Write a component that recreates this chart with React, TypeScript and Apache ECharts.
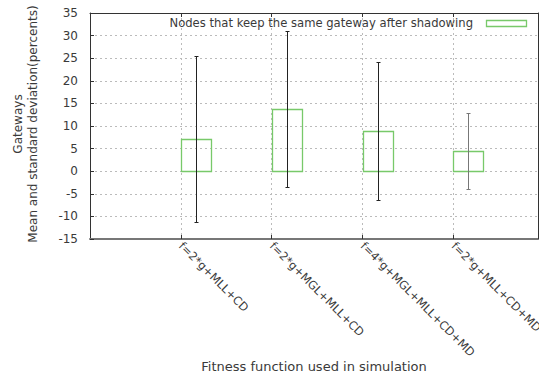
import React, { useEffect, useRef } from "react";
import * as echarts from "echarts";

const categories = [
  "f=2*g+MLL+CD",
  "f=2*g+MGL+MLL+CD",
  "f=4*g+MGL+MLL+CD+MD",
  "f=2*g+MLL+CD+MD",
];
const means = [7.05, 13.7, 8.9, 4.4];
const stdDevs = [18.35, 17.3, 15.2, 8.4];
const yTicks = [-15, -10, -5, 0, 5, 10, 15, 20, 25, 30, 35];
const legendLabel = "Nodes that keep the same gateway after shadowing";
const xTitle = "Fitness function used in simulation";
const yTitle = "Gateways\nMean and standard deviation(percents)";

const FONT = "DejaVu Sans";
const TEXT = "#3a3a3a";
const GREEN = "#78c96a";

export default function App() {
  const ref = useRef<HTMLDivElement>(null);
  useEffect(() => {
    document.body.style.margin = "0";
    const chart = echarts.init(ref.current!, null, { renderer: "svg" });
    const boxW = 0.33;
    const boxData = means.map((m, i) => [i, m]);
    const errData = means.map((m, i) => [i, m, stdDevs[i]]);
    const option: any = {
      animation: false,
      textStyle: { fontFamily: FONT },
      grid: { left: 90, top: 13, right: 1, bottom: 137, containLabel: false, outerBoundsMode: "none" },
      xAxis: [
        {
          type: "value",
          min: -1,
          max: 3.93,
          interval: 1,
          position: "bottom",
          axisLine: { show: true, onZero: false, lineStyle: { color: "#777", width: 2 } },
          axisTick: { show: true, inside: true, length: 4, lineStyle: { color: "#333" } },
          axisLabel: {
            rotate: -45,
            color: TEXT,
            fontFamily: FONT,
            fontSize: 11.5,
            margin: 5,
            showMinLabel: false,
            hideOverlap: false,
            formatter: (v: number) => (v >= 0 && v < categories.length ? categories[v] : ""),
          },
          splitLine: { show: true, lineStyle: { color: "#bbb", type: [2, 3] } },
        },
        {
          type: "value",
          min: -1,
          max: 3.93,
          interval: 1,
          position: "top",
          axisLine: { show: true, onZero: false, lineStyle: { color: "#333", width: 1 } },
          axisTick: { show: true, inside: true, length: 4, lineStyle: { color: "#333" } },
          axisLabel: { show: false },
          splitLine: { show: false },
        },
      ],
      yAxis: [
        {
          type: "value",
          min: yTicks[0],
          max: yTicks[yTicks.length - 1],
          interval: 5,
          axisLine: { show: true, onZero: false, lineStyle: { color: "#333", width: 1 } },
          axisTick: { show: true, inside: true, length: 4, lineStyle: { color: "#333" } },
          axisLabel: { color: TEXT, fontFamily: FONT, fontSize: 12, margin: 12 },
          splitLine: { show: true, lineStyle: { color: "#bbb", type: [2, 3] } },
        },
        {
          type: "value",
          min: yTicks[0],
          max: yTicks[yTicks.length - 1],
          interval: 5,
          position: "right",
          axisLine: { show: true, onZero: false, lineStyle: { color: "#333", width: 1 } },
          axisTick: { show: false },
          axisLabel: { show: false },
          splitLine: { show: false },
        },
      ],
      series: [
        {
          type: "custom",
          name: "boxes",
          xAxisIndex: 0,
          yAxisIndex: 0,
          data: boxData,
          z: 5,
          itemStyle: { color: GREEN },
          renderItem: (params: any, api: any) => {
            const x = api.value(0);
            const m = api.value(1);
            const p0 = api.coord([x, 0]);
            const p1 = api.coord([x + boxW, m]);
            const lx = Math.round(p0[0]) + 0.5;
            const rx = Math.round(p1[0]) + 0.5;
            const ty = Math.round(p1[1]) + 0.5;
            const by = Math.round(p0[1]) + 0.5;
            return {
              type: "rect",
              shape: { x: lx, y: ty, width: rx - lx, height: by - ty },
              style: { fill: "none", stroke: GREEN, lineWidth: 1.3 },
            };
          },
        },
        {
          type: "custom",
          name: "errors",
          xAxisIndex: 0,
          yAxisIndex: 0,
          data: errData,
          z: 6,
          renderItem: (params: any, api: any) => {
            const x = api.value(0);
            const m = api.value(1);
            const sd = api.value(2);
            const cx = Math.round(api.coord([x + boxW / 2, 0])[0]) + 0.5;
            const top = Math.round(api.coord([x, m + sd])[1]) + 0.5;
            const bot = Math.round(api.coord([x, m - sd])[1]) + 0.5;
            const barColor = params.dataIndex === 3 ? "#777" : "#222";
            return {
              type: "group",
              children: [
                {
                  type: "line",
                  shape: { x1: cx, y1: top, x2: cx, y2: bot },
                  style: { stroke: barColor, lineWidth: 1 },
                },
                {
                  type: "line",
                  shape: { x1: cx - 2, y1: top, x2: cx + 2, y2: top },
                  style: { stroke: barColor, lineWidth: 1 },
                },
                {
                  type: "line",
                  shape: { x1: cx - 2, y1: bot, x2: cx + 2, y2: bot },
                  style: { stroke: barColor, lineWidth: 1 },
                },
              ],
            };
          },
        },
      ],
      graphic: [
        {
          type: "text",
          x: 473,
          y: 23,
          style: {
            text: legendLabel,
            fill: TEXT,
            font: `11.6px "${FONT}"`,
            align: "right",
            verticalAlign: "middle",
          },
        },
        {
          type: "rect",
          shape: { x: 486.5, y: 20.5, width: 40, height: 6 },
          style: { fill: "none", stroke: GREEN, lineWidth: 1.3 },
        },
        {
          type: "text",
          x: 314,
          y: 366,
          style: {
            text: xTitle,
            fill: TEXT,
            font: `13px "${FONT}"`,
            align: "center",
            verticalAlign: "middle",
          },
        },
        {
          type: "text",
          x: 25.5,
          y: 124,
          rotation: Math.PI / 2,
          style: {
            text: yTitle,
            fill: TEXT,
            font: `12px "${FONT}"`,
            lineHeight: 15,
            align: "center",
            verticalAlign: "middle",
          },
        },
      ],
    };
    chart.setOption(option);
    return () => chart.dispose();
  }, []);
  return <div ref={ref} style={{ width: 539, height: 376 }} />;
}
